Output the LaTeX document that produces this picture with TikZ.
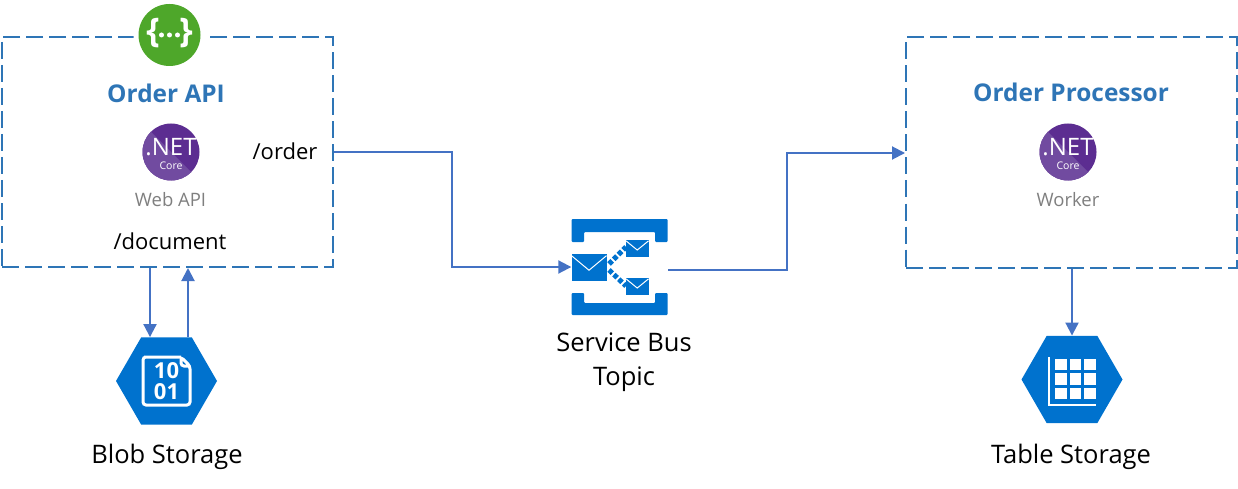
\documentclass[tikz,border=0pt]{standalone}
\usepackage{fontspec}
\setmainfont{Open Sans}
\usetikzlibrary{arrows.meta, positioning, shapes.geometric}
\definecolor{boxblue}{HTML}{2E75B6}
\definecolor{flowblue}{HTML}{4472C4}
\definecolor{iconblue}{HTML}{0072CE}
\definecolor{netdark}{HTML}{5C2D91}
\definecolor{netlight}{HTML}{714BA0}
\definecolor{apigreen}{HTML}{4EA72A}
\definecolor{subgrey}{HTML}{7F7F7F}
\tikzset{%
	every box/.style={
		draw=boxblue,
		line width=2pt,
		dash pattern=on 17pt off 6pt,
		minimum width=331pt,
		minimum height=230pt,
		inner sep=0pt
	},
	flow/.style={
		draw=flowblue,
		line width=2pt,
		-{Triangle[length=13pt,width=13pt]}
	},
	plain text/.style={
		inner sep=0pt,
		font=\fontsize{22}{26}\selectfont
	},
	large text/.style={
		inner sep=0pt,
		font=\fontsize{25.5}{30}\selectfont
	},
	box title/.style={
		inner sep=0pt,
		text=boxblue,
		font=\fontsize{24.4}{28}\selectfont\bfseries
	},
	sub text/.style={
		inner sep=0pt,
		text=subgrey,
		font=\fontsize{18.5}{22}\selectfont
	},
	hexa/.style={
		shape=regular polygon,
		regular polygon sides=6,
		fill=iconblue,
		inner sep=0pt,
		minimum size=101pt
	},
	net/.style={
		circle,
		fill=netdark,
		inner sep=0pt,
		minimum size=57pt,
		path picture={
			\fill[netlight] (path picture bounding box.north west) ++(-5pt,5pt) -- ++(70pt,-70pt) -- ++(-70pt,0pt) -- cycle;
		}
	},
	net big/.style={inner sep=0pt, text=white, font=\fontsize{24}{28}\selectfont},
	net small/.style={inner sep=0pt, text=white, font=\fontsize{10.5}{12}\selectfont}
}
\begin{document}
\begin{tikzpicture}[x=1pt,y=-1pt]
	\useasboundingbox (0,0) rectangle (1238,489);
	\node[every box] (api) at (167.5,152) {};
	\node[every box] (proc) at (1071.5,152.5) {};

	% api badge
	\node[circle, fill=white, inner sep=0pt, minimum size=74pt] (ring) at (170.5,35) {};
	\node[circle, fill=apigreen, inner sep=0pt, minimum size=62pt] (badge) at (169.5,35) {};
	\node[inner sep=0pt, text=white, font=\fontsize{34}{38}\selectfont\bfseries] (lbrace) at (153,33) {\{};
	\node[inner sep=0pt, text=white, font=\fontsize{34}{38}\selectfont\bfseries] (rbrace) at (186,33) {\}};
	\foreach \dx in {-8,0,8}
		\fill[white] (169.5+\dx,35) circle (2.5pt);

	% left box
	\node[box title] (apititle) at (166,93) {Order API};
	\node[net] (netapi) at (171,152) {};
	\node[net big] (netapia) at (171,147) {.NET};
	\node[net small] (netapib) at (171,166) {Core};
	\node[sub text] (webapi) at (170.5,199.5) {Web API};
	\node[plain text] (order) at (285,151) {/order};
	\node[plain text] (document) at (170,241) {/document};

	% right box
	\node[box title] (proctitle) at (1071,92) {Order Processor};
	\node[net] (netproc) at (1068,152) {};
	\node[net big] (netproca) at (1068,147) {.NET};
	\node[net small] (netprocb) at (1068,166) {Core};
	\node[sub text] (worker) at (1068,199.5) {Worker};

	% service bus
	\node[inner sep=0pt, minimum width=96pt, minimum height=96pt] (bus) at (619.5,267) {};
	\fill[iconblue, rounded corners=1pt] (571.5,219) -- (667.5,219) -- (667.5,242) -- (655,242) -- (655,232) -- (584,232) -- (584,242) -- (571.5,242) -- cycle;
	\fill[iconblue, rounded corners=1pt] (571.5,315) -- (667.5,315) -- (667.5,293) -- (655,293) -- (655,303) -- (584,303) -- (584,293) -- (571.5,293) -- cycle;
	\foreach \ex/\ey/\ew/\eh in {571.5/253.5/35/27, 626/239.5/22.5/17, 626/277.5/22.5/17} {
		\fill[iconblue] (\ex,\ey) rectangle ++(\ew,\eh);
		\draw[white, line width=1pt] (\ex,\ey+0.08*\eh) -- (\ex+0.5*\ew,\ey+0.62*\eh) -- (\ex+\ew,\ey+0.08*\eh);
	}
	\draw[iconblue, line width=5pt, dash pattern=on 4.5pt off 2.2pt] (609,264) -- (626,247);
	\draw[iconblue, line width=5pt, dash pattern=on 4.5pt off 2.2pt] (609,270) -- (626,286);
	\node[large text] (busa) at (624,342) {Service Bus};
	\node[large text] (busb) at (624,379) {Topic};

	% blob storage
	\node[hexa] (blob) at (166.5,381) {};
	\draw[white, line width=3pt, rounded corners=3pt] (181,357) -- (147,357) -- (143,357) -- (143,405) -- (190,405) -- (190,366) -- (181,357) -- (181,366) -- (190,366);
	\node[inner sep=0pt, text=white, font=\fontsize{22}{24}\selectfont\bfseries, align=center] (bits) at (166.5,381) {10\\[-3pt]01};
	\node[large text] (blobtext) at (167,457) {Blob Storage};

	% table storage
	\node[hexa] (table) at (1072,379.5) {};
	\draw[white, line width=2pt] (1049,357) -- (1049,405) -- (1096,405);
	\foreach \cx in {1055,1069.5,1084}
		\foreach \cy in {358.5,373,387.5}
			\fill[white] (\cx,\cy) rectangle ++(11.7,11.7);
	\node[large text] (tabletext) at (1071,457) {Table Storage};

	% connectors
	\coordinate (busout) at (668,270);
	\draw[flow] (api.east |- 0,152) -| (452,267) -- (bus.west);
	\draw[flow] (busout) -| (787,153) -- (proc.west |- 0,153);
	\draw[flow] (150,0 |- api.south) -- (150,0 |- blob.north);
	\draw[flow] (188,0 |- blob.north) -- (188,0 |- api.south);
	\draw[flow] (proc.south -| table.north) -- (table.north);
\end{tikzpicture}
\end{document}
